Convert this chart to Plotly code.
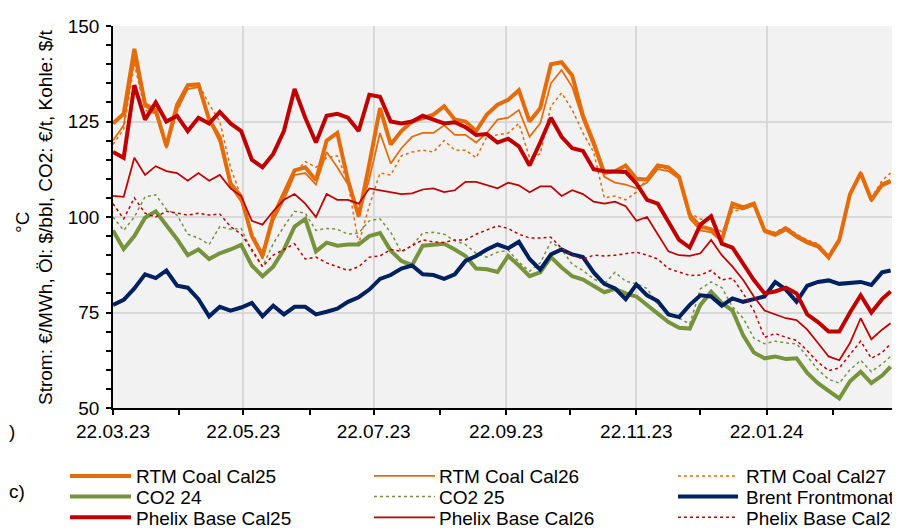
import plotly.graph_objects as go

# ---------------- data ----------------
dates = [
    "2023-03-22", "2023-03-27", "2023-04-01", "2023-04-06", "2023-04-11", "2023-04-16",
    "2023-04-21", "2023-04-26", "2023-05-01", "2023-05-06", "2023-05-11", "2023-05-16",
    "2023-05-21", "2023-05-26", "2023-05-31", "2023-06-05", "2023-06-10", "2023-06-15",
    "2023-06-20", "2023-06-25", "2023-06-30", "2023-07-05", "2023-07-10", "2023-07-15",
    "2023-07-20", "2023-07-25", "2023-07-30", "2023-08-04", "2023-08-09", "2023-08-14",
    "2023-08-19", "2023-08-24", "2023-08-29", "2023-09-03", "2023-09-08", "2023-09-13",
    "2023-09-18", "2023-09-23", "2023-09-28", "2023-10-03", "2023-10-08", "2023-10-13",
    "2023-10-18", "2023-10-23", "2023-10-28", "2023-11-02", "2023-11-07", "2023-11-12",
    "2023-11-17", "2023-11-22", "2023-11-27", "2023-12-02", "2023-12-07", "2023-12-12",
    "2023-12-17", "2023-12-22", "2023-12-27", "2024-01-01", "2024-01-06", "2024-01-11",
    "2024-01-16", "2024-01-21", "2024-01-26", "2024-01-31", "2024-02-05", "2024-02-10",
    "2024-02-15", "2024-02-20", "2024-02-25", "2024-03-01", "2024-03-06", "2024-03-11",
    "2024-03-16", "2024-03-20",
]

rtm_coal_cal25 = [
    124.5, 127, 144, 129.5, 128, 118.6, 129.4, 134.5, 134.7, 125.5,
    120.8, 108.8, 105.3, 95, 89.9, 100.2, 106.2, 112.2, 113, 109.6,
    120, 122, 109.6, 100.2, 113.9, 128.5, 119, 122.5, 125, 126,
    126.8, 129, 125.5, 125, 122.5, 126.8, 129.4, 130.7, 133.2, 125,
    128.5, 140, 140.5, 137, 126.5, 119.5, 111.5, 112, 113.5, 110,
    109.8, 113.5, 113, 110.5, 100.5, 97.5, 96.8, 94, 103.5, 102.5,
    103.5, 96.5, 95.5, 97, 95, 93.5, 92.5, 89.5, 94, 106,
    111.5, 104.5, 108.5, 109.5,
]
rtm_coal_cal26 = [
    120, 124, 141.5, 129, 127, 118, 128, 133.5, 134, 125.5,
    119.5, 108, 104, 95, 89, 99, 104.5, 111, 111.5, 108.5,
    117, 113, 108.5, 100, 110, 122, 114, 118, 121, 122,
    122, 124, 121.5, 121.5, 119.5, 122, 125.5, 126, 128, 121,
    124.5, 135, 138.5, 134, 125.5, 118.5, 110.5, 109, 108.5, 107.5,
    109, 112.5, 112, 110, 99.5, 96.5, 96, 93.5, 102.5, 102,
    103, 96, 95, 96.5, 94.5, 93, 92, 89, 93.5, 105.5,
    111, 104, 108, 109,
]
rtm_coal_cal27 = [
    119, 123, 140, 128, 127, 118, 127.5, 134, 135, 129.5,
    125, 113, 105.3, 96, 90.5, 101, 106, 111.5, 114.5, 113,
    115.5, 116, 109, 93, 103, 111.5, 111, 116, 117, 117.5,
    117, 120, 117.5, 117.5, 115.5, 121, 121.5, 122, 124.5, 115.5,
    116.5, 129, 132.5, 128, 122, 117, 105, 105.5, 104.5, 106.5,
    110, 113, 112.5, 110, 101, 99.5, 99, 96, 101.5, 102,
    103, 96.5, 96, 97.5, 95.5, 94, 93, 90, 94.5, 106,
    112, 105, 109.5, 111.5,
]
co2_24 = [
    96.5, 91.6, 95, 99.8, 101.5, 98, 94.2, 90, 91.5, 89,
    90.5, 91.5, 92.7, 87.3, 84.5, 87, 91.5, 97.5, 99.5, 91,
    93.3, 92.5, 92.8, 92.8, 95, 95.8, 91.2, 88.5, 87.4, 92.5,
    92.8, 93, 91.5, 89.8, 86.5, 86.3, 85.6, 89.8, 87.3, 84.5,
    85.5, 89.5, 86.8, 84.5, 83.6, 82.1, 80.3, 81.2, 80, 79.2,
    77, 75, 72.5, 71, 70.8, 77, 80.4, 77.5, 75.5, 69,
    64.5, 63, 63.5, 62.8, 63, 59.2, 56.5, 54.5, 52.5, 57,
    59.5, 56.5, 58.5, 60.8,
]
co2_25 = [
    100, 96.5, 100, 105.3, 105.8, 102, 100.5, 95.5, 94.5, 92.8,
    97.5, 96.8, 97, 91, 87, 93, 97.5, 101.5, 101, 96.5,
    97, 96.8, 95.5, 95.8, 99, 99.5, 96, 90.8, 92.5, 95.8,
    96, 95.5, 93.8, 92.8, 90.5, 89.5, 90.8, 91.3, 88.2, 85.8,
    88, 93.5, 91.5, 87.6, 86, 83.8, 82.5, 85.5, 83.2, 82.5,
    81.3, 77, 75, 73.5, 72, 81.2, 83, 81.5, 76.5, 73.5,
    68.3, 66.8, 67.5, 67, 66.8, 63.5, 60, 57.5, 56.5, 60,
    62.5, 59.5, 61.5, 63.5,
]
brent_frontmonat = [
    77, 78.3, 81.3, 85, 84, 86, 82, 81.5, 78.5, 74,
    76.5, 75.5, 76.3, 77.5, 74, 76.8, 74.5, 76.5, 76.5, 74.5,
    75.2, 76, 77.8, 79, 81, 83.8, 84.8, 86.5, 87.3, 85,
    84.8, 83.8, 85, 88.5, 89.8, 91.5, 92.8, 91.8, 93.5, 89,
    86.2, 90.2, 91.5, 90.2, 89.5, 85.5, 82.5, 81.3, 78.5, 82.3,
    79.5, 78, 74.5, 73.8, 77, 79.5, 79.2, 76.8, 78.7, 77.8,
    78.5, 79.2, 83, 81, 77.8, 82, 83, 83.4, 82.5, 82.8,
    83, 82.2, 85.5, 86,
]
phelix_cal25 = [
    117, 115.5, 134.5, 125.5, 130, 125, 126.5, 122.5, 126, 124.5,
    127.5, 124.5, 122.5, 115, 113, 116.5, 122.5, 133.5, 126, 119.5,
    126.5, 127, 126, 122.5, 132, 131.5, 125, 124.5, 125, 126.5,
    125.5, 124.5, 124.8, 123.5, 121.5, 121.7, 119.5, 120.5, 118.5, 113.5,
    119.5, 126, 121, 118, 117.3, 112.5, 112, 112, 111.8, 108.8,
    104.5, 103.5, 98.5, 94, 92, 98, 100.2, 93, 92, 87.8,
    83.5, 80, 80.5, 81.5, 80, 74.5, 72.5, 70, 70, 75,
    79.5, 75, 78.5, 80.5,
]
phelix_cal26 = [
    105.5, 105.3, 115.5, 111, 113.3, 112, 111.5, 109.5, 111.5, 109.5,
    111, 107.5, 105.5, 99, 98, 101.5, 104.5, 106, 103.5, 100,
    106, 104.5, 104.5, 103.5, 107.5, 107, 106.5, 106, 106.2, 107.2,
    107.5, 106.5, 107, 109.2, 109.2, 108.3, 107.5, 109, 108.3, 106.5,
    108, 108, 105.5, 107, 106, 104, 103.5, 104, 102.8, 99,
    100, 95.5, 91, 90, 89.8, 90.5, 94, 90, 87, 83.5,
    79.2, 75.5, 74.5, 73.5, 73, 70.5, 67, 63.5, 62.5, 67,
    73.5, 68, 70.5, 72.2,
]
phelix_cal27 = [
    103.5, 99.5, 105, 101, 100, 101.5, 101, 100.5, 101, 100.5,
    100.8, 97.5, 95.5, 91.5, 87, 90, 91.5, 93, 89, 89.5,
    88, 87, 86, 87, 89.5, 89.8, 91.5, 91, 92.5, 94,
    93.5, 93.3, 94, 94, 95.5, 96.5, 97.7, 97, 95.5, 94.5,
    94.5, 94.7, 91.8, 90, 89, 90, 89.8, 90, 90.5, 90.8,
    90, 89, 86.5, 85.5, 84.7, 84.8, 86, 83.5, 84, 80,
    75.5, 68.5, 69.5, 68.5, 67.7, 65, 62, 59.8, 60.5, 64,
    67.5, 63, 64.5, 66.8,
]

y_title = "Strom: €/MWh, Öl: $/bbl, CO2: €/t, Kohle: $/t"

# ---------------- styling ----------------
ORANGE = "#E46C0A"
GREEN = "#77933C"
RED = "#C00000"
NAVY = "#002060"
FONT = "Arial, 'Liberation Sans', sans-serif"
FS = 19

series = [
    ("RTM Coal Cal25", rtm_coal_cal25, ORANGE, 4, "solid"),
    ("RTM Coal Cal26", rtm_coal_cal26, ORANGE, 1.75, "solid"),
    ("RTM Coal Cal27", rtm_coal_cal27, ORANGE, 1.5, "dot"),
    ("CO2 24", co2_24, GREEN, 4, "solid"),
    ("CO2 25", co2_25, GREEN, 1.5, "dot"),
    ("Brent Frontmonat", brent_frontmonat, NAVY, 4, "solid"),
    ("Phelix Base Cal25", phelix_cal25, RED, 4, "solid"),
    ("Phelix Base Cal26", phelix_cal26, RED, 1.75, "solid"),
    ("Phelix Base Cal27", phelix_cal27, RED, 1.5, "dot"),
]

# page geometry (the html body adds an 8px margin around the figure)
OFF = 8
PAGE_W, PAGE_H = 900, 529
W, H = PAGE_W - OFF, PAGE_H - OFF
L, R, T, B = 113, 892, 20, 408          # plot area in page pixels


def px(x):
    return (x - L) / (R - L)


def py(y):
    return (B - y) / (B - T)


fig = go.Figure()
for name, vals, color, width, dash in series:
    fig.add_trace(go.Scatter(
        x=dates, y=vals, name=name, mode="lines",
        line=dict(color=color, width=width, dash=dash),
        showlegend=False,
    ))

# manual legend: 3 columns x 3 rows
cols = [(70, 131, 134), (374, 435, 437), (678, 738, 744)]
rows = [477, 498, 519]
shapes = []
annotations = []
for k, (name, vals, color, width, dash) in enumerate(series):
    r, c = divmod(k, 3)
    x0, x1, tx = cols[c]
    yy = rows[r]
    shapes.append(dict(type="line", xref="paper", yref="paper",
                       x0=px(x0), x1=px(x1), y0=py(yy), y1=py(yy),
                       line=dict(color=color, width=width, dash=dash)))
    annotations.append(dict(text=name, xref="paper", yref="paper",
                            x=px(tx), y=py(yy + 1), xanchor="left", yanchor="middle",
                            showarrow=False, font=dict(size=FS, color="black", family=FONT)))

annotations.append(dict(text=y_title, xref="paper", yref="paper",
                        x=px(45), y=0.5, textangle=-90, xanchor="center", yanchor="middle",
                        showarrow=False, font=dict(size=FS, color="black", family=FONT)))
annotations.append(dict(text="°C", xref="paper", yref="paper",
                        x=px(23), y=py(220), textangle=-90, xanchor="center", yanchor="middle",
                        showarrow=False, font=dict(size=FS, color="black", family=FONT)))
annotations.append(dict(text=")", xref="paper", yref="paper",
                        x=px(7), y=py(432), xanchor="left", yanchor="middle",
                        showarrow=False, font=dict(size=FS, color="black", family=FONT)))
annotations.append(dict(text="c)", xref="paper", yref="paper",
                        x=px(7), y=py(493), xanchor="left", yanchor="middle",
                        showarrow=False, font=dict(size=FS, color="black", family=FONT)))

axis_common = dict(
    showline=True, linecolor="black", linewidth=1.5,
    ticks="outside", ticklen=5, tickwidth=1.5, tickcolor="black",
    showgrid=True, gridcolor="#D9D9D9", gridwidth=1.5,
    zeroline=False, tickfont=dict(size=FS, color="black", family=FONT),
)

fig.update_layout(
    width=W, height=H,
    margin=dict(l=L - OFF, r=PAGE_W - R, t=T - OFF, b=PAGE_H - B),
    paper_bgcolor="white", plot_bgcolor="#F2F2F2",
    font=dict(family=FONT, size=FS, color="black"),
    showlegend=False,
    xaxis=dict(
        type="date", range=["2023-03-22", "2024-03-20 16:00"],
        tick0="2023-03-22", dtick="M2", tickformat="%d.%m.%y",
        minor=dict(tick0="2023-03-22", dtick="M1", ticks="outside", ticklen=5,
                   tickwidth=1.5, tickcolor="black", showgrid=False),
        **axis_common,
    ),
    yaxis=dict(
        range=[50, 150], tick0=50, dtick=25, ticklabelstandoff=3,
        minor=dict(dtick=5, ticks="outside", ticklen=5, tickwidth=1.5,
                   tickcolor="black", showgrid=False),
        **axis_common,
    ),
    shapes=shapes,
    annotations=annotations,
)

fig.write_html("out.html")
